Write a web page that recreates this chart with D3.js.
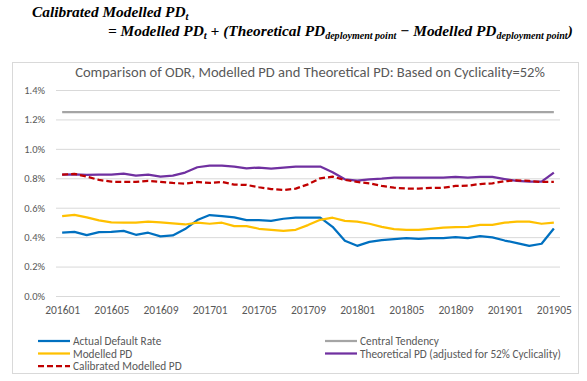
<!DOCTYPE html>
<html><head><meta charset="utf-8">
<script src="https://cdn.jsdelivr.net/npm/d3@7"></script>
<style>body{margin:0;background:#fff;} svg{display:block;}</style>
</head><body>
<svg id="c" width="587" height="381"></svg>
<script>
const months = ["201601","201602","201603","201604","201605","201606","201607","201608","201609","201610","201611","201612",
"201701","201702","201703","201704","201705","201706","201707","201708","201709","201710","201711","201712",
"201801","201802","201803","201804","201805","201806","201807","201808","201809","201810","201811","201812",
"201901","201902","201903","201904","201905"];
const tickLabels = ["201601","201605","201609","201701","201705","201709","201801","201805","201809","201901","201905"];
const yTicks = [0,0.2,0.4,0.6,0.8,1.0,1.2,1.4];
const actualDefaultRate = [0.430,0.436,0.414,0.434,0.436,0.443,0.416,0.430,0.405,0.412,0.455,0.516,0.550,0.543,0.534,0.516,0.516,0.511,0.525,0.532,0.532,0.532,0.470,0.375,0.341,0.368,0.380,0.386,0.393,0.389,0.393,0.393,0.400,0.393,0.407,0.398,0.377,0.360,0.341,0.355,0.459];
const modelledPD = [0.543,0.552,0.534,0.514,0.500,0.498,0.498,0.505,0.500,0.493,0.486,0.498,0.491,0.498,0.475,0.475,0.457,0.450,0.443,0.450,0.482,0.518,0.532,0.511,0.505,0.491,0.470,0.455,0.450,0.450,0.457,0.464,0.468,0.470,0.484,0.484,0.498,0.505,0.505,0.491,0.498];
const theoreticalPD = [0.825,0.827,0.823,0.825,0.825,0.832,0.818,0.825,0.811,0.818,0.839,0.875,0.886,0.886,0.880,0.868,0.873,0.866,0.873,0.880,0.880,0.880,0.841,0.793,0.784,0.793,0.798,0.805,0.805,0.805,0.805,0.805,0.809,0.805,0.809,0.809,0.795,0.782,0.777,0.777,0.839];
const calibratedPD = [0.825,0.830,0.811,0.789,0.777,0.775,0.775,0.782,0.775,0.768,0.764,0.775,0.768,0.775,0.757,0.755,0.739,0.727,0.720,0.730,0.759,0.800,0.811,0.789,0.775,0.766,0.748,0.736,0.730,0.730,0.734,0.736,0.748,0.750,0.761,0.766,0.780,0.786,0.782,0.775,0.775];
const centralTendency = months.map(() => 1.25);

const seriesNames = ["Actual Default Rate","Central Tendency","Modelled PD","Theoretical PD (adjusted for 52% Cyclicality)","Calibrated Modelled PD"];
const seriesData = [actualDefaultRate, centralTendency, modelledPD, theoreticalPD, calibratedPD];
const seriesColors = ["#0070C0","#A5A5A5","#FFC000","#7030A0","#C00000"];
const seriesDash = [null,null,null,null,"6,3"];

const svg = d3.select("#c");
const font = "Carlito, Calibri, Lato, 'Open Sans', sans-serif";

function fit(sel, w){
  const n = sel.node(); const fs = parseFloat(sel.attr("font-size"));
  const cur = n.getComputedTextLength(); if (cur>0) sel.attr("font-size", (fs*w/cur).toFixed(2));
}
function fitBox(sel, w){
  const cur = sel.node().getBBox().width;
  const k = w/cur;
  sel.attr("font-size", (parseFloat(sel.attr("font-size"))*k).toFixed(2));
  sel.selectAll("tspan").each(function(){
    const s = d3.select(this);
    if (s.attr("font-size")) s.attr("font-size",(parseFloat(s.attr("font-size"))*k).toFixed(2));
  });
  return k;
}

// formula
const serif = "'Liberation Serif', 'DejaVu Serif', serif";
const f2 = svg.append("text").attr("x",108).attr("y",36).attr("font-family",serif)
  .attr("font-weight","bold").attr("font-style","italic").attr("font-size",13).attr("fill","#000");
f2.append("tspan").text("= Modelled PD");
f2.append("tspan").attr("font-size",9).attr("dy",3).text("t");
f2.append("tspan").attr("dy",-3).text(" + (Theoretical PD");
f2.append("tspan").attr("font-size",8.5).attr("dy",3).text("deployment point");
f2.append("tspan").attr("dy",-3).text(" − Modelled PD");
f2.append("tspan").attr("font-size",8.5).attr("dy",3).text("deployment point");
f2.append("tspan").attr("dy",-3).text(")");
const k = fitBox(f2, 465);
const f1 = svg.append("text").attr("x",32).attr("y",17).attr("font-family",serif)
  .attr("font-weight","bold").attr("font-style","italic").attr("font-size",(13*k).toFixed(2)).attr("fill","#000");
f1.append("tspan").text("Calibrated Modelled PD");
f1.append("tspan").attr("font-size",(9*k).toFixed(2)).attr("dy",3).text("t");

// frame
svg.append("rect").attr("x",12.5).attr("y",62.5).attr("width",566).attr("height",311)
  .attr("fill","#fff").attr("stroke","#d9d9d9").attr("stroke-width",1);

const x = d3.scalePoint().domain(months).range([56,560]).padding(0.5);
const y = d3.scaleLinear().domain([0,1.4]).range([296,90]);

// title
const t = svg.append("text").attr("x",310).attr("y",77).attr("text-anchor","middle")
  .attr("font-family",font).attr("font-size",13).attr("fill","#595959")
  .text("Comparison of ODR, Modelled PD and Theoretical PD: Based on Cyclicality=52%");
fit(t, 470);

// grid + y axis
const yAxis = d3.axisLeft(y).tickValues(yTicks).tickSize(-(560-56)).tickFormat(d => d3.format(".1f")(d)+"%");
const gy = svg.append("g").attr("transform","translate(56,0)").call(yAxis);
gy.select(".domain").remove();
gy.selectAll(".tick line").attr("stroke","#d9d9d9").attr("stroke-width",1);
gy.selectAll(".tick text").attr("x",-11).attr("font-family",font).attr("font-size",10.5).attr("fill","#595959");

// x axis labels
const xAxis = d3.axisBottom(x).tickValues(tickLabels).tickSize(0).tickPadding(10);
const gx = svg.append("g").attr("transform","translate(0,296)").call(xAxis);
gx.select(".domain").remove();
gx.selectAll(".tick text").attr("font-family",font).attr("font-size",11.5).attr("fill","#595959");

// lines
const line = d3.line().x((d,i)=>x(months[i])).y(d=>y(d));
const order = [1,0,2,3,4];
order.forEach(k => {
  svg.append("path").datum(seriesData[k]).attr("d",line).attr("fill","none")
    .attr("stroke",seriesColors[k]).attr("stroke-width",2.25)
    .attr("stroke-dasharray",seriesDash[k]).attr("stroke-linejoin","round");
});

// legend
const legPos = [[38,341],[325,341],[38,353.5],[325,353.5],[38,366]];
seriesNames.forEach((nm,k) => {
  const [lx,ly] = legPos[k];
  svg.append("line").attr("x1",lx).attr("x2",lx+32).attr("y1",ly).attr("y2",ly)
    .attr("stroke",seriesColors[k]).attr("stroke-width",2.25).attr("stroke-dasharray",seriesDash[k]);
  svg.append("text").attr("x",lx+35).attr("y",ly+4).attr("font-family",font).attr("font-size",11.3)
    .attr("fill","#595959").text(nm);
});
</script>
</body></html>
